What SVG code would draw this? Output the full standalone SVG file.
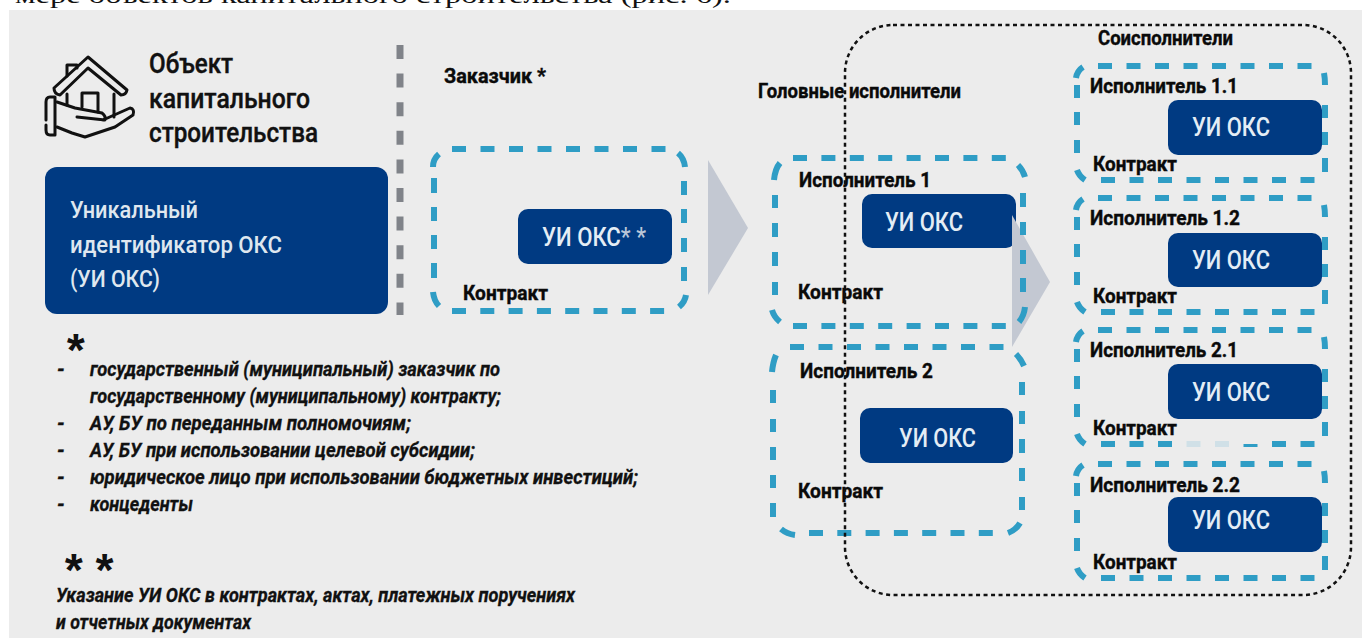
<svg xmlns="http://www.w3.org/2000/svg" width="1362" height="638" viewBox="0 0 1362 638">
<style>
text{font-family:"Roboto","Liberation Sans",sans-serif}
.dash{fill:none;stroke:#2f9dc5;stroke-width:6}
.id{fill:#003a82}
.idt{fill:#e4edf5;font-size:25px;font-weight:500}
.lbl{fill:#0a0a0a;font-size:21px;font-weight:700;stroke:#0a0a0a;stroke-width:.4}
.title{fill:#111;font-size:27px;font-weight:500;stroke:#111;stroke-width:.4}
.big{fill:#dfe7ef;font-size:23px;font-weight:500}
.note{fill:#111;font-size:20px;font-weight:700;font-style:italic;stroke:#111;stroke-width:.3}
.star{fill:#111;font-size:46px;font-weight:700;font-style:italic}
.arrow{fill:#c3c8d2}
.icon{fill:none;stroke:#111;stroke-width:3;stroke-linecap:round;stroke-linejoin:round}
</style>
<defs>
<path id="co-dash" d="M1098 66h14M1126.500 66h14M1155 66h14M1183.500 66h14M1212 66h14M1240.500 66h14M1269 66h14M1297.500 66h14M1101 180h14M1129.500 180h14M1158 180h14M1186.500 180h14M1215 180h14M1243.500 180h14M1272 180h14M1300.500 180h14M1076 78Q1077 71 1083 67M1077 85v13M1077 112v13M1077 140v13M1077 170Q1079 176 1085 180M1324 73Q1325 78 1325 85M1325 105v13M1325 132v13M1325 158v14"/>
</defs>
<rect width="1362" height="638" fill="#fff"/>
<text x="15" y="3" font-size="24" textLength="716" lengthAdjust="spacingAndGlyphs" style="font-family:'Liberation Serif',serif" fill="#111">мере объектов капитального строительства (рис. 6).</text>
<rect x="9" y="10" width="1353" height="628" fill="#ececec"/>

<g id="object">
<g class="icon">
<path d="M54 88L88 57L127 90Q126 95 121 95L88 68L60 95Q54 94 54 88"/>
<path d="M67 76V65H77V68"/>
<path d="M67 94V105M114 94V117"/>
<path d="M82 107V93H98V112"/>
<path d="M46 120V102Q46 97 50 97H55V135H50Q46 135 46 130V125"/>
<path d="M57 102L75 108L102 113Q106 116 105 120L77 117M103 120L130 108Q135 109 133 115L115 127L85 137L72 133L57 127"/>
</g>
<text class="title" x="149" y="73" textLength="84" lengthAdjust="spacingAndGlyphs">Объект</text>
<text class="title" x="149" y="108" textLength="161" lengthAdjust="spacingAndGlyphs">капитального</text>
<text class="title" x="149" y="142" textLength="169" lengthAdjust="spacingAndGlyphs">строительства</text>
</g>

<g id="uid-main">
<rect class="id" x="45" y="167" width="343" height="147" rx="12"/>
<text class="big" x="70" y="218" textLength="128" lengthAdjust="spacingAndGlyphs">Уникальный</text>
<text class="big" x="70" y="253" textLength="212" lengthAdjust="spacingAndGlyphs">идентификатор ОКС</text>
<text class="big" x="70" y="287" textLength="90" lengthAdjust="spacingAndGlyphs">(УИ ОКС)</text>
</g>

<g id="connectors">
<path d="M400 45V315" fill="none" stroke="#808389" stroke-width="7" stroke-dasharray="14 14.600"/>
<polygon class="arrow" points="708,160 748,228 708,295"/>
</g>

<g id="customer">
<path class="dash" d="M452 149h14M480.500 149h14M509 149h14M537.500 149h14M566 149h14M594.500 149h14M623 149h14M651.500 149h14M452 311h14M480.300 311h14M508.600 311h14M536.900 311h14M565.200 311h14M593.500 311h14M621.800 311h14M650.100 311h14M439 154Q433 159 433 167M434 178v15M434 207v14M434 235v14M434 263v15M433 292Q434 301 439 306M678 153Q684 158 685 167M684 181v14M684 209v14M684 238v14M684 267v14M686 295Q685 302 679 307"/>
<text class="lbl" x="444" y="83" textLength="102" lengthAdjust="spacingAndGlyphs">Заказчик *</text>
<rect class="id" x="518" y="209" width="154" height="55" rx="10"/>
<text class="idt" x="542" y="246" textLength="104" lengthAdjust="spacingAndGlyphs">УИ ОКС<tspan style="fill:#b9c6d8">* *</tspan></text>
<text class="lbl" x="463" y="300" textLength="85" lengthAdjust="spacingAndGlyphs">Контракт</text>
</g>

<text id="head-title" class="lbl" x="758" y="98" textLength="203" lengthAdjust="spacingAndGlyphs">Головные исполнители</text>

<g id="exec-1">
<path class="dash" d="M793 158h14M821.400 158h14M849.800 158h14M878.200 158h14M906.600 158h14M935 158h14M963.400 158h14M991.800 158h14M793 326h14M821.400 326h14M849.800 326h14M878.200 326h14M906.600 326h14M935 326h14M963.400 326h14M991.800 326h14M780 163Q775 169 774 180M775 195v13M775 223v14M775 252v14M775 282v13M772 310Q774 317 780 322"/>
<text class="lbl" x="799" y="187" textLength="132" lengthAdjust="spacingAndGlyphs">Исполнитель 1</text>
<rect class="id" x="862" y="194" width="154" height="54" rx="10"/>
<text class="idt" x="885" y="231" textLength="78" lengthAdjust="spacingAndGlyphs">УИ ОКС</text>
<text class="lbl" x="798" y="299" textLength="85" lengthAdjust="spacingAndGlyphs">Контракт</text>
</g>

<g id="exec-2">
<path class="dash" d="M790 347h14M818.500 347h14M847 347h14M875.500 347h14M904 347h14M932.500 347h14M961 347h14M989.500 347h14M809 533h14M837.300 533h14M865.600 533h14M893.900 533h14M922.200 533h14M950.500 533h14M978.800 533h14M776 355Q773 362 772 372M773 390v13M773 419v13M773 447v13M773 475v13M773 503v14M781 529Q787 534 795 535M1008 533Q1016 530 1020 523M1016 354Q1021 359 1024 366M1022 382v13M1022 411v13M1022 439v14M1022 468v13M1022 497v13"/>
<text class="lbl" x="800" y="378" textLength="133" lengthAdjust="spacingAndGlyphs">Исполнитель 2</text>
<rect class="id" x="860" y="408" width="153" height="55" rx="10"/>
<text class="idt" x="899" y="447" textLength="77" lengthAdjust="spacingAndGlyphs">УИ ОКС</text>
<text class="lbl" x="798" y="498" textLength="85" lengthAdjust="spacingAndGlyphs">Контракт</text>
</g>

<g id="connectors-2">
<polygon class="arrow" points="1012,215 1050,282 1012,347"/>
<path class="dash" d="M1018 165Q1023 170 1025 177M1023 193v14M1023 222v13M1023 250v14M1023 278v14M1025 307Q1024 316 1019 322"/>
<rect x="845" y="25" width="506" height="570" rx="48" fill="none" stroke="#111" stroke-width="2.500" stroke-dasharray="4 3.500"/>
</g>

<text id="co-title" class="lbl" x="1098" y="45" textLength="135" lengthAdjust="spacingAndGlyphs">Соисполнители</text>

<g id="co-1-1">
<use href="#co-dash" class="dash"/>
<text class="lbl" x="1090" y="93" textLength="148" lengthAdjust="spacingAndGlyphs">Исполнитель 1.1</text>
<rect class="id" x="1168" y="100" width="154" height="55" rx="10"/>
<text class="idt" x="1192" y="136" textLength="78" lengthAdjust="spacingAndGlyphs">УИ ОКС</text>
<text class="lbl" x="1093" y="171" textLength="84" lengthAdjust="spacingAndGlyphs">Контракт</text>
</g>
<g id="co-1-2">
<use href="#co-dash" class="dash" transform="translate(0 132)"/>
<text class="lbl" x="1090" y="225" textLength="150" lengthAdjust="spacingAndGlyphs">Исполнитель 1.2</text>
<rect class="id" x="1168" y="233" width="154" height="54" rx="10"/>
<text class="idt" x="1192" y="269" textLength="78" lengthAdjust="spacingAndGlyphs">УИ ОКС</text>
<text class="lbl" x="1093" y="303" textLength="84" lengthAdjust="spacingAndGlyphs">Контракт</text>
</g>
<g id="co-2-1">
<use href="#co-dash" class="dash" transform="translate(0 264)"/>
<rect x="1183" y="440" width="47" height="8" fill="#ececec" opacity=".85"/>
<rect x="1240" y="440" width="20" height="4" fill="#ececec"/>
<text class="lbl" x="1090" y="357" textLength="148" lengthAdjust="spacingAndGlyphs">Исполнитель 2.1</text>
<rect class="id" x="1168" y="364" width="154" height="55" rx="10"/>
<text class="idt" x="1192" y="401" textLength="78" lengthAdjust="spacingAndGlyphs">УИ ОКС</text>
<text class="lbl" x="1093" y="435" textLength="84" lengthAdjust="spacingAndGlyphs">Контракт</text>
</g>
<g id="co-2-2">
<use href="#co-dash" class="dash" transform="translate(0 398)"/>
<text class="lbl" x="1090" y="492" textLength="150" lengthAdjust="spacingAndGlyphs">Исполнитель 2.2</text>
<rect class="id" x="1168" y="497" width="154" height="55" rx="10"/>
<text class="idt" x="1192" y="529" textLength="78" lengthAdjust="spacingAndGlyphs">УИ ОКС</text>
<text class="lbl" x="1093" y="569" textLength="84" lengthAdjust="spacingAndGlyphs">Контракт</text>
</g>

<g id="notes">
<text class="star" x="65" y="366" style="font-family:'Liberation Sans',sans-serif">*</text>
<text class="note" x="57" y="376">-</text>
<text class="note" x="90" y="376" textLength="410" lengthAdjust="spacingAndGlyphs">государственный (муниципальный) заказчик по</text>
<text class="note" x="90" y="403" textLength="411" lengthAdjust="spacingAndGlyphs">государственному (муниципальному) контракту;</text>
<text class="note" x="57" y="430">-</text>
<text class="note" x="90" y="430" textLength="321" lengthAdjust="spacingAndGlyphs">АУ, БУ  по переданным полномочиям;</text>
<text class="note" x="57" y="457">-</text>
<text class="note" x="90" y="457" textLength="385" lengthAdjust="spacingAndGlyphs">АУ, БУ при использовании целевой субсидии;</text>
<text class="note" x="57" y="484">-</text>
<text class="note" x="90" y="484" textLength="548" lengthAdjust="spacingAndGlyphs">юридическое  лицо при использовании бюджетных инвестиций;</text>
<text class="note" x="57" y="511">-</text>
<text class="note" x="90" y="511" textLength="103" lengthAdjust="spacingAndGlyphs">концеденты</text>
<text class="star" x="63" y="586" style="font-family:'Liberation Sans',sans-serif">* *</text>
<text class="note" x="56" y="602" textLength="519" lengthAdjust="spacingAndGlyphs">Указание УИ ОКС в контрактах, актах, платежных поручениях</text>
<text class="note" x="56" y="629" textLength="195" lengthAdjust="spacingAndGlyphs">и отчетных документах</text>
</g>
</svg>
